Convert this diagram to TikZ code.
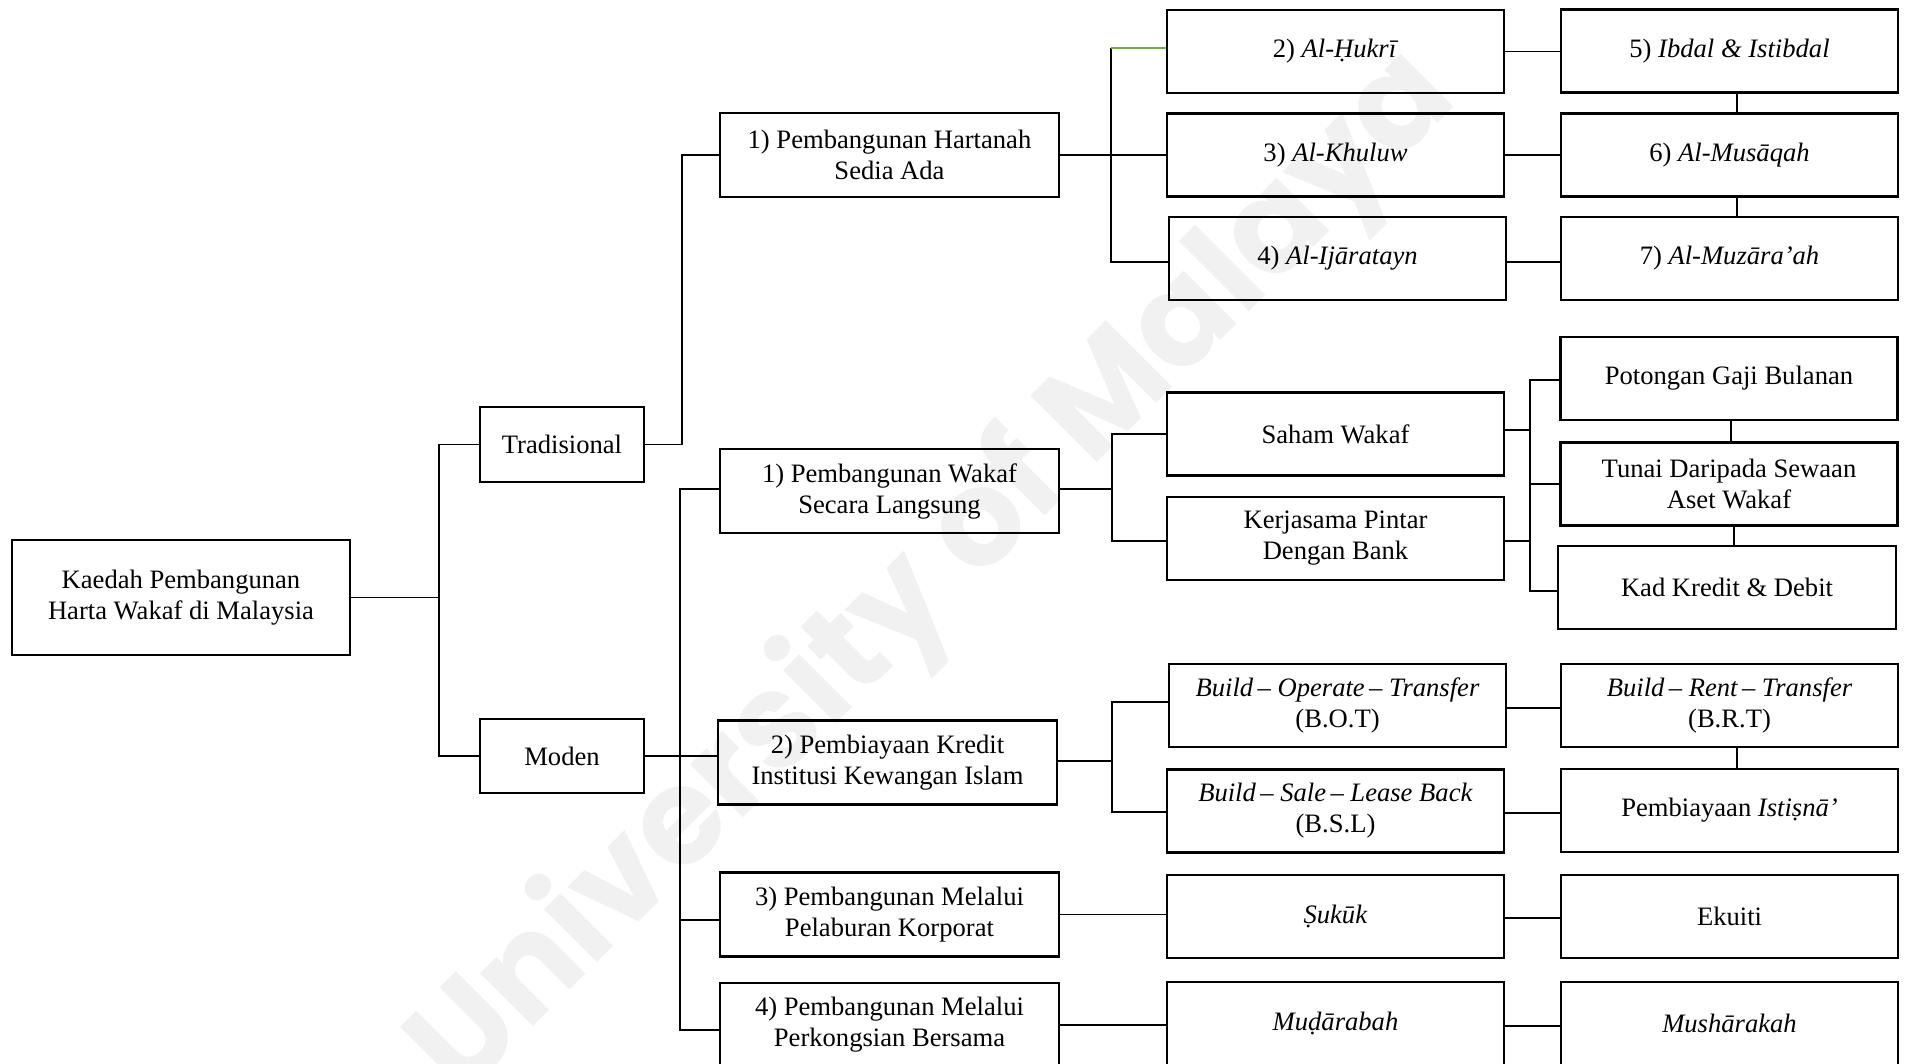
\documentclass[tikz,border=0pt]{standalone}
\usepackage{fontspec}
\setmainfont{Liberation Serif}
\newfontfamily\wmfont{Poppins}
\newcommand\bodyfont{\fontsize{26.6}{31}\selectfont}
\definecolor{greenline}{HTML}{70AD47}
\definecolor{wmgray}{HTML}{F1F1F1}
\begin{document}
\begin{tikzpicture}[x=1pt,y=-1pt,
  box/.style={draw, line width=2.4pt, minimum width=337, minimum height=83, inner sep=2pt, align=center, font=\bodyfont},
  conn/.style={line width=1.8pt},
  wm/.style={rotate=45, text=wmgray, font=\wmfont\bfseries\fontsize{134}{134}\selectfont}]
\useasboundingbox (0,0) rectangle (1905,1063);
\clip (0,0) rectangle (1905,1063);
\fill[white] (0,0) rectangle (1905,1063);
\node[wm] (wmark) at (935,575) {University of Malaya};
% level 1
\node[box, minimum width=338, minimum height=115] (root) at (181,597.5) {Kaedah Pembangunan\\Harta Wakaf di Malaysia};
\node[box, minimum width=164, minimum height=75] (trad) at (562,444.5) {Tradisional};
\node[box, minimum width=164, minimum height=74] (moden) at (562,756) {Moden};
% level 2
\node[box, minimum width=339, minimum height=84] (phsa) at (889.5,155) {1) Pembangunan Hartanah\\Sedia Ada};
\node[box, minimum width=339, minimum height=84] (pwsl) at (889.5,491) {1) Pembangunan Wakaf\\Secara Langsung};
\node[box, minimum width=339, minimum height=84] (pkiki) at (887.5,762.5) {2) Pembiayaan Kredit\\Institusi Kewangan Islam};
\node[box, minimum width=339, minimum height=84] (pmpk) at (889.5,914.5) {3) Pembangunan Melalui\\Pelaburan Korporat};
\node[box, minimum width=339, minimum height=84] (pmpb) at (889.5,1025) {4) Pembangunan Melalui\\Perkongsian Bersama};
% level 3
\node[box] (hukri) at (1335.5,51.5) {2) \textit{Al-Ḥukrī}};
\node[box] (khuluw) at (1335.5,155) {3) \textit{Al-Khuluw}};
\node[box] (ijar) at (1337.5,258.5) {4) \textit{Al-Ijāratayn}};
\node[box] (saham) at (1335.5,434) {Saham Wakaf};
\node[box] (kerja) at (1335.5,538.5) {Kerjasama Pintar\\Dengan Bank};
\node[box] (bot) at (1337.5,705.5) {\textit{Build\,– Operate\,– Transfer}\\(B.O.T)};
\node[box] (bsl) at (1335.5,811) {\textit{Build\,– Sale\,– Lease Back}\\(B.S.L)};
\node[box] (sukuk) at (1335.5,916.5) {\textit{Ṣukūk}};
\node[box] (mudar) at (1335.5,1023.5) {\textit{Muḍārabah}};
% level 4
\node[box] (ibdal) at (1729.5,51) {5) \textit{Ibdal \& Istibdal}};
\node[box] (musaqah) at (1729.5,155) {6) \textit{Al-Musāqah}};
\node[box] (muzar) at (1729.5,258.5) {7) \textit{Al-Muzāra’ah}};
\node[box] (poto) at (1729,378.5) {Potongan Gaji Bulanan};
\node[box] (tunai) at (1729,484) {Tunai Daripada Sewaan\\Aset Wakaf};
\node[box, minimum width=338] (kad) at (1727,587.5) {Kad Kredit \& Debit};
\node[box] (brt) at (1729.5,705.5) {\textit{Build\,– Rent\,– Transfer}\\(B.R.T)};
\node[box] (istis) at (1729.5,810.5) {Pembiayaan \textit{Istiṣnā’}};
\node[box] (ekuiti) at (1729.5,916.5) {Ekuiti};
\node[box] (mushar) at (1729.5,1023.5) {\textit{Mushārakah}};
% connectors: root
\coordinate (j1) at (439,597.5);
\draw[conn] (root.east) -- (j1);
\draw[conn] (trad.west) -| (j1);
\draw[conn] (moden.west) -| (j1);
% tradisional
\draw[conn] (trad.east) -- ++(37,0) coordinate (j2) |- (phsa.west);
% moden
\coordinate (j3) at (680,756);
\draw[conn] (moden.east) -- (moden.east -| pkiki.west);
\draw[conn] (j3) |- ([yshift=2]pwsl.west);
\draw[conn] (j3) |- ([yshift=-5.5]pmpk.west);
\draw[conn] (j3) |- ([yshift=-5]pmpb.west);
% phsa
\draw[conn] (phsa.east) -- (khuluw.west);
\coordinate (j4) at (1111,155);
\coordinate (j4t) at (1111,48);
\draw[conn] (j4t) -- (j4) |- ([yshift=-3.5]ijar.west);
\draw[line width=1.3pt, greenline] (j4t) -- (j4t -| hukri.west);
\draw[conn] (hukri.east) -- (hukri.east -| ibdal.west);
\draw[conn] (khuluw.east) -- (musaqah.west);
\draw[conn] ([yshift=-3.5]ijar.east) -- ([yshift=-3.5]ijar.east -| muzar.west);
\draw[conn] ([xshift=7.5]ibdal.south) -- ([xshift=7.5]musaqah.north);
\draw[conn] ([xshift=7.5]musaqah.south) -- ([xshift=7.5]muzar.north);
% pwsl
\draw[conn] ([yshift=2]pwsl.east) -- ++(52,0) coordinate (j5);
\draw[conn] (j5) |- (saham.west);
\draw[conn] (j5) |- ([yshift=-2.5]kerja.west);
\coordinate (j6) at (1530,484);
\draw[conn] ([yshift=4]saham.east) -| (j6);
\draw[conn] ([yshift=-2.5]kerja.east) -| (j6);
\draw[conn] (j6) |- ([yshift=-1.5]poto.west);
\draw[conn] (j6) -- (tunai.west);
\draw[conn] (j6) |- ([yshift=-3.5]kad.west);
\draw[conn] ([xshift=2]poto.south) -- ([xshift=2]tunai.north);
\draw[conn] ([xshift=5]tunai.south) -- ([xshift=5]tunai.south |- kad.north);
% pkiki
\draw[conn] ([yshift=1.5]pkiki.east) -- ++(54,0) coordinate (j7);
\draw[conn] (j7) |- ([yshift=3.5]bot.west);
\draw[conn] (j7) |- ([yshift=-1]bsl.west);
\draw[conn] ([yshift=-2.5]bot.east) -- ([yshift=-2.5]bot.east -| brt.west);
\draw[conn] ([yshift=-2]bsl.east) -- ([yshift=-2]bsl.east -| istis.west);
\draw[conn] ([xshift=7.5]brt.south) -- ([xshift=7.5]istis.north);
% pmpk, pmpb
\draw[conn] (pmpk.east) -- (pmpk.east -| sukuk.west);
\draw[conn] ([yshift=-1.5]sukuk.east) -- ([yshift=-1.5]sukuk.east -| ekuiti.west);
\draw[conn] (pmpb.east) -- (pmpb.east -| mudar.west);
\draw[conn] ([yshift=-2.5]mudar.east) -- ([yshift=-2.5]mudar.east -| mushar.west);
\end{tikzpicture}
\end{document}
